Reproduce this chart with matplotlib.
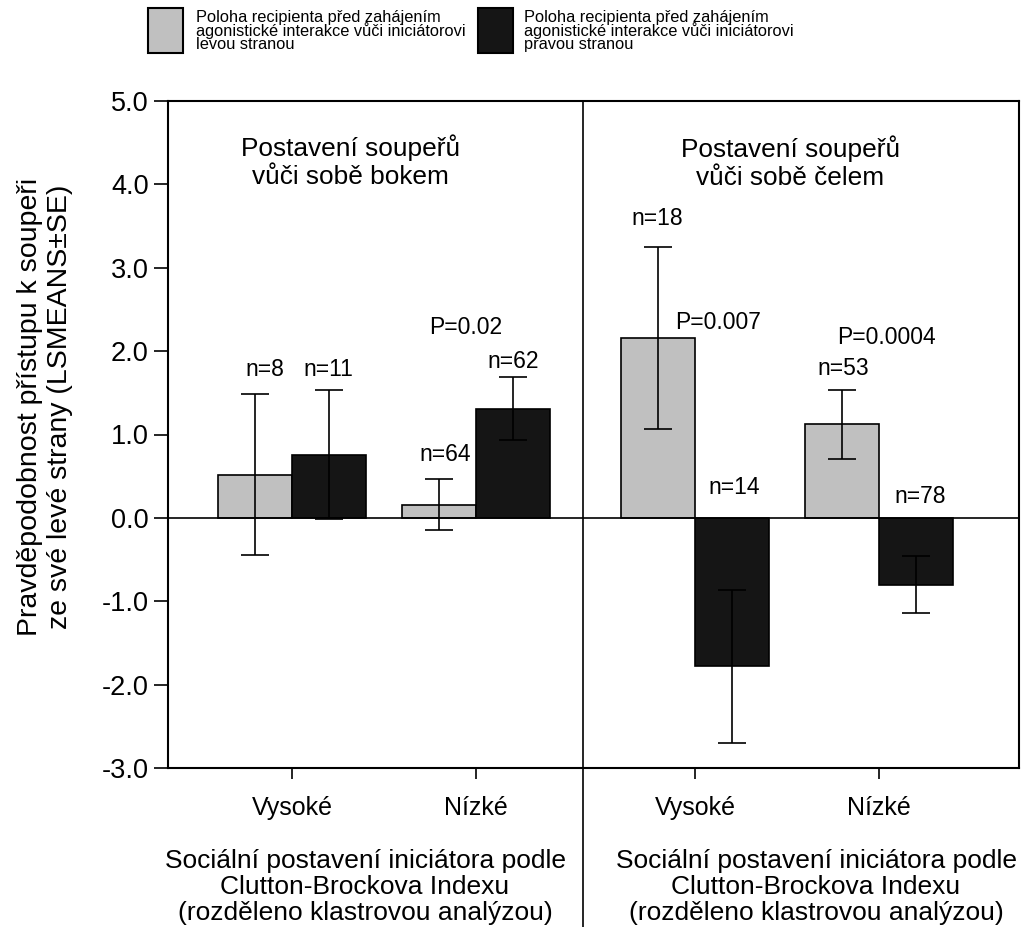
import matplotlib
matplotlib.use("Agg")
import matplotlib.pyplot as plt
import matplotlib.transforms as mtransforms
from matplotlib.patches import Rectangle
import numpy as np

plt.rcParams['font.family'] = ['Liberation Sans', 'DejaVu Sans']

# data
groups = ['Vysoké', 'Nízké', 'Vysoké', 'Nízké']
left_mean = [0.52, 0.16, 2.16, 1.12]    # levou stranou (gray)
left_se = [0.97, 0.31, 1.09, 0.41]
right_mean = [0.76, 1.31, -1.78, -0.80]  # pravou stranou (black)
right_se = [0.77, 0.38, 0.92, 0.34]
n_left = ['n=8', 'n=64', 'n=18', 'n=53']
n_right = ['n=11', 'n=62', 'n=14', 'n=78']
p_labels = ['', 'P=0.02', 'P=0.007', 'P=0.0004']
panel_titles = ['Postavení soupeřů\nvůči sobě bokem', 'Postavení soupeřů\nvůči sobě čelem']
legend_labels = ['Poloha recipienta před zahájením\nagonistické interakce vůči iniciátorovi\nlevou stranou',
                 'Poloha recipienta před zahájením\nagonistické interakce vůči iniciátorovi\npravou stranou']
xlabel = 'Sociální postavení iniciátora podle\nClutton-Brockova Indexu\n(rozděleno klastrovou analýzou)'
ylabel = 'Pravděpodobnost přístupu k soupeři\nze své levé strany (LSMEANS±SE)'

gray = '#c0c0c0'
dark = '#151515'

# layout
x = np.array([0.0, 1.0, 2.19, 3.19])
w = 0.40
divider = 1.582

fig = plt.figure(figsize=(10.22, 9.27), dpi=100)
ax = fig.add_axes([168/1022, 1-768/927, (1019-168)/1022, (768-101)/927])

ax.bar(x - w/2, left_mean, w, color=gray, edgecolor='black', linewidth=1.2, zorder=2)
ax.bar(x + w/2, right_mean, w, color=dark, edgecolor='black', linewidth=1.2, zorder=2)
ax.errorbar(x - w/2, left_mean, yerr=left_se, fmt='none', ecolor='black',
            elinewidth=1.2, capsize=10, capthick=1.2, zorder=3)
ax.errorbar(x + w/2, right_mean, yerr=right_se, fmt='none', ecolor='black',
            elinewidth=1.2, capsize=10, capthick=1.2, zorder=3)

ax.axhline(0, color='black', lw=1.2, zorder=4)

ax.set_xlim(-0.674, 3.951)
ax.set_ylim(-3, 5)
ax.set_yticks(np.arange(-3, 5.1, 1))
ax.set_yticklabels([f'{v:.1f}' for v in np.arange(-3, 5.1, 1)])
ax.set_xticks(x)
ax.set_xticklabels(groups)
ax.tick_params(axis='y', direction='out', length=10, width=1.2, labelsize=19.5, pad=4)
ax.tick_params(axis='x', direction='out', length=8, width=1.2, labelsize=18, pad=12)
for s in ax.spines.values():
    s.set_linewidth(1.5)

# y label as figure text so it can sit where the original has it
fig.text(45/1022, 1-407/927, ylabel, rotation=90, ha='center', va='center',
         fontsize=20.5, linespacing=1.2)

# divider line between the two panels, running down past the axis
trans = mtransforms.blended_transform_factory(ax.transData, ax.transAxes)
ax.plot([divider, divider], [1, -0.245], transform=trans, color='black', lw=1.2, clip_on=False)

# panel titles
ax.text(0.32, 4.27, panel_titles[0], ha='center', va='center', fontsize=18.9, linespacing=1.2)
ax.text(2.707, 4.26, panel_titles[1], ha='center', va='center', fontsize=18.9, linespacing=1.2)

# n and P annotations
n_left_pos = [(-0.147, 1.775), (0.832, 0.755), (1.984, 3.585), (2.995, 1.79)]
n_right_pos = [(0.196, 1.775), (1.201, 1.88), (2.402, 0.37), (3.413, 0.26)]
p_pos = [(0, 0), (0.946, 2.28), (2.315, 2.34), (3.228, 2.16)]
for lab, (tx, ty) in zip(n_left, n_left_pos):
    ax.text(tx, ty, lab, ha='center', va='center', fontsize=16.5)
for lab, (tx, ty) in zip(n_right, n_right_pos):
    ax.text(tx, ty, lab, ha='center', va='center', fontsize=16.5)
for lab, (tx, ty) in zip(p_labels, p_pos):
    if lab:
        ax.text(tx, ty, lab, ha='center', va='center', fontsize=16.5)

# bottom labels
fig.text(365/1022, 1-887/927, xlabel, ha='center', va='center', fontsize=19.0, linespacing=1.1)
fig.text(816/1022, 1-887/927, xlabel, ha='center', va='center', fontsize=19.0, linespacing=1.1)

# legend
for (px, tx), col, lab in zip([(148, 196), (478, 524)], [gray, dark], legend_labels):
    fig.patches.append(Rectangle((px/1022, 1-53/927), 35/1022, 45/927, transform=fig.transFigure,
                                 facecolor=col, edgecolor='black', lw=1.5))
    fig.text(tx/1022, 1-31/927, lab, ha='left', va='center', fontsize=11.8, linespacing=0.82)

fig.savefig('out.png', dpi=100)
